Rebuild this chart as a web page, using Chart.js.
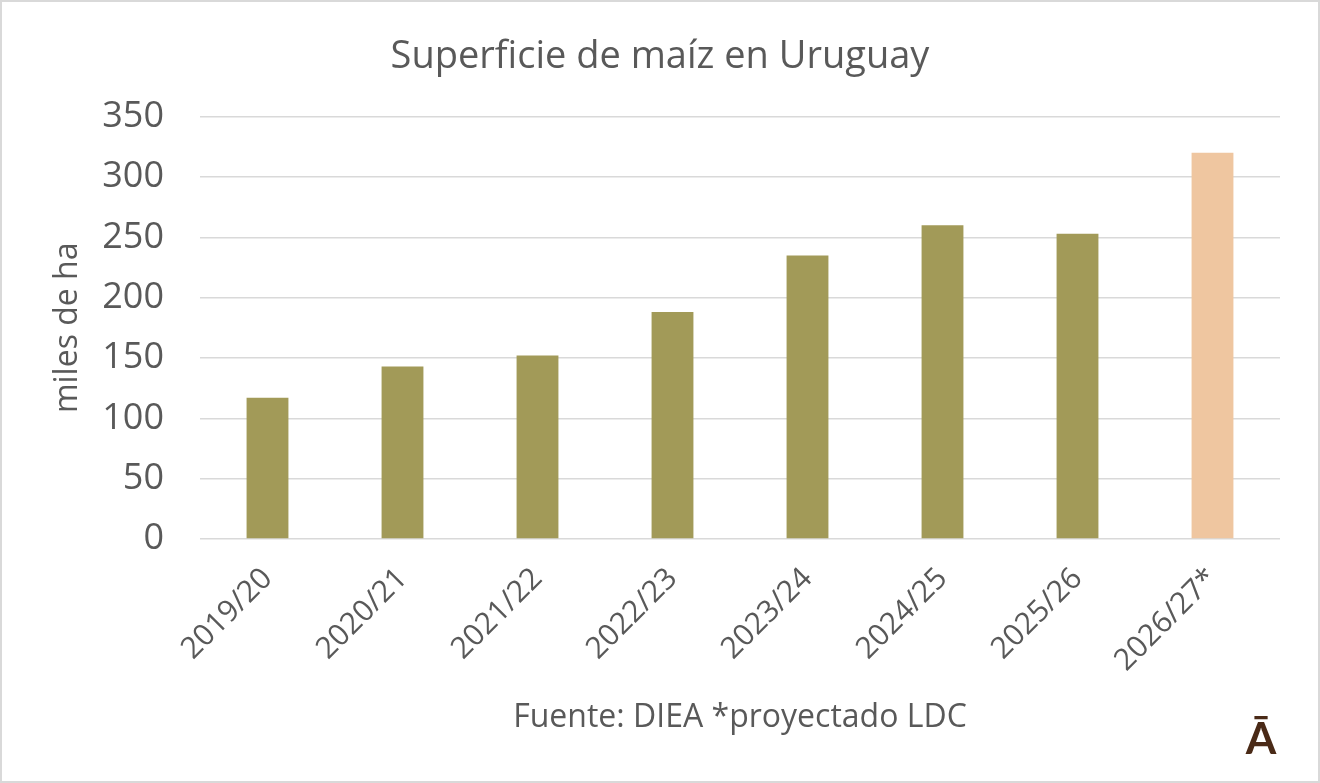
<!DOCTYPE html>
<html><head><meta charset="utf-8">
<script src="https://cdn.jsdelivr.net/npm/chart.js@4/dist/chart.umd.min.js"></script>
<style>html,body{margin:0;padding:0;background:#fff;overflow:hidden}#wrap{width:1320px;height:783px}</style>
</head><body><div id="wrap"><canvas id="c" width="1320" height="783"></canvas></div>
<script>
const categories = ['2019/20','2020/21','2021/22','2022/23','2023/24','2024/25','2025/26','2026/27*'];
const superficie = [117, 143, 152, 188, 235, 260, 253, 320];
const yTicks = [0, 50, 100, 150, 200, 250, 300, 350];
const chartTitle = 'Superficie de maíz en Uruguay';
const yTitle = 'miles de ha';
const sourceNote = 'Fuente: DIEA *proyectado LDC';
const logoText = 'Ā';

const GREY = '#595959';
const barColors = categories.map(c => c.endsWith('*') ? '#EFC6A0' : '#A29A58');

const decor = {
  id: 'decor',
  afterDraw(chart) {
    const ctx = chart.ctx;
    ctx.save();
    ctx.fillStyle = '#4A2A17';
    ctx.font = 'bold 44px Lato';
    ctx.textAlign = 'center';
    ctx.textBaseline = 'alphabetic';
    ctx.fillText(logoText, 1261, 754);
    ctx.strokeStyle = '#d9d9d9';
    ctx.lineWidth = 2;
    ctx.strokeRect(1, 1, 1318, 781);
    ctx.restore();
  }
};

function build() {
  Chart.defaults.font.family = '"Open Sans"';
  new Chart(document.getElementById('c'), {
    type: 'bar',
    data: {
      labels: categories,
      datasets: [{
        data: superficie,
        backgroundColor: barColors,
        borderWidth: 0,
        barPercentage: 0.31,
        categoryPercentage: 1
      }]
    },
    options: {
      responsive: false,
      animation: false,
      layout: { padding: { left: 40, right: 40, top: 0, bottom: 0 } },
      plugins: {
        legend: { display: false },
        tooltip: { enabled: false },
        title: {
          display: true,
          text: chartTitle,
          color: GREY,
          font: { size: 38, weight: 'normal' },
          padding: { top: 34, bottom: 37 }
        }
      },
      scales: {
        x: {
          grid: { display: false },
          border: { display: false },
          ticks: { color: GREY, font: { size: 30 }, maxRotation: 45, minRotation: 45, padding: 14 },
          title: { display: true, text: sourceNote, color: GREY, font: { size: 32 }, padding: { top: 0, bottom: 46 } },
          afterFit: s => { s.height = 244; }
        },
        y: {
          min: 0, max: 350,
          afterBuildTicks: s => { s.ticks = yTicks.map(v => ({ value: v })); },
          grid: { color: '#d9d9d9', lineWidth: 1.5, drawTicks: false },
          border: { display: false },
          ticks: { color: GREY, font: { size: 36 }, padding: 36 },
          title: { display: true, text: yTitle, color: GREY, font: { size: 32 }, padding: { top: 9, bottom: 0 } },
          afterFit: s => { s.width = 160; }
        }
      }
    },
    plugins: [decor]
  });
}
Promise.all([document.fonts.load('34px "Open Sans"'), document.fonts.load('bold 44px Lato')]).then(build, build);
</script>
</body></html>
